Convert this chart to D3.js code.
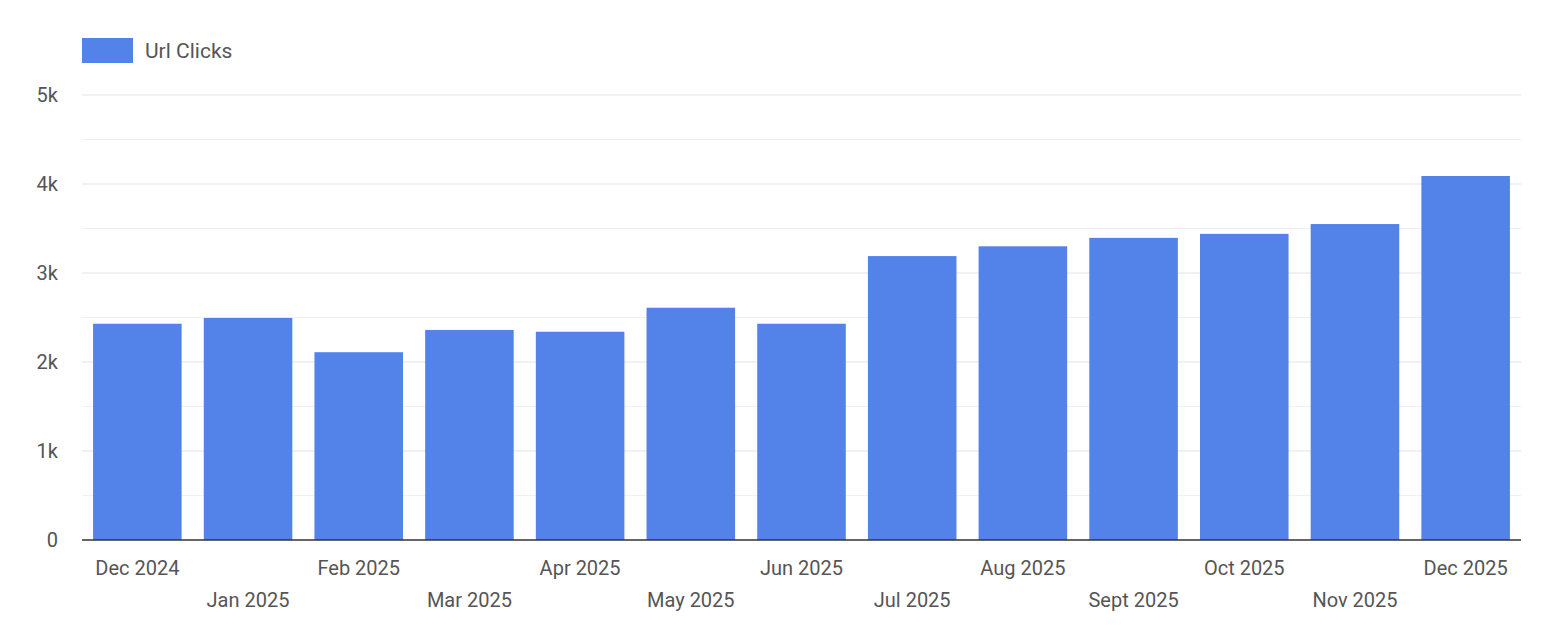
<!DOCTYPE html>
<html><head><meta charset="utf-8">
<script src="https://cdn.jsdelivr.net/npm/d3@7"></script>
<style>body{margin:0;background:#fff;font-family:Roboto,sans-serif}</style>
</head><body><svg id="c" width="1544" height="636"></svg>
<script>
const categories=["Dec 2024","Jan 2025","Feb 2025","Mar 2025","Apr 2025","May 2025","Jun 2025","Jul 2025","Aug 2025","Sept 2025","Oct 2025","Nov 2025","Dec 2025"];
const clicks=[2430,2495,2110,2360,2340,2610,2430,3190,3300,3395,3440,3550,4090];
const yTicks=[0,1000,2000,3000,4000,5000];
const yTickLabels=["0","1k","2k","3k","4k","5k"];
const color="#5383E8";
const svg=d3.select("#c");
const x=d3.scaleBand().domain(categories).range([82,1521]).paddingInner(0.2).paddingOuter(0.1);
const y=d3.scaleLinear().domain([0,5000]).range([540,95]);
const grid=d3.range(500,5001,500);
svg.selectAll("line.g").data(grid).join("line").attr("x1",82).attr("x2",1521)
 .attr("y1",d=>y(d)).attr("y2",d=>y(d)).attr("stroke",d=>d%1000?"#f0f0f0":"#e4e4e4").attr("stroke-width",1.2);
svg.selectAll("rect.b").data(clicks).join("rect").attr("x",(d,i)=>x(categories[i])).attr("width",x.bandwidth())
 .attr("y",d=>y(d)).attr("height",d=>y(0)-y(d)).attr("fill",color);
svg.append("line").attr("x1",82).attr("x2",1521).attr("y1",y(0)).attr("y2",y(0)).attr("stroke","#333").attr("stroke-width",1.5);
svg.selectAll("text.y").data(yTicks).join("text").attr("x",58).attr("y",d=>y(d)+7).attr("text-anchor","end")
 .attr("font-size",20).attr("fill","#555").text((d,i)=>yTickLabels[i]);
svg.selectAll("text.x").data(categories).join("text").attr("x",d=>x(d)+x.bandwidth()/2).attr("y",(d,i)=>i%2?607:575)
 .attr("text-anchor","middle").attr("font-size",20).attr("fill","#555").text(d=>d);
svg.append("rect").attr("x",82).attr("y",38).attr("width",51).attr("height",25).attr("fill",color);
svg.append("text").attr("x",145).attr("y",58).attr("font-size",21).attr("fill","#555").text("Url Clicks");
</script></body></html>
